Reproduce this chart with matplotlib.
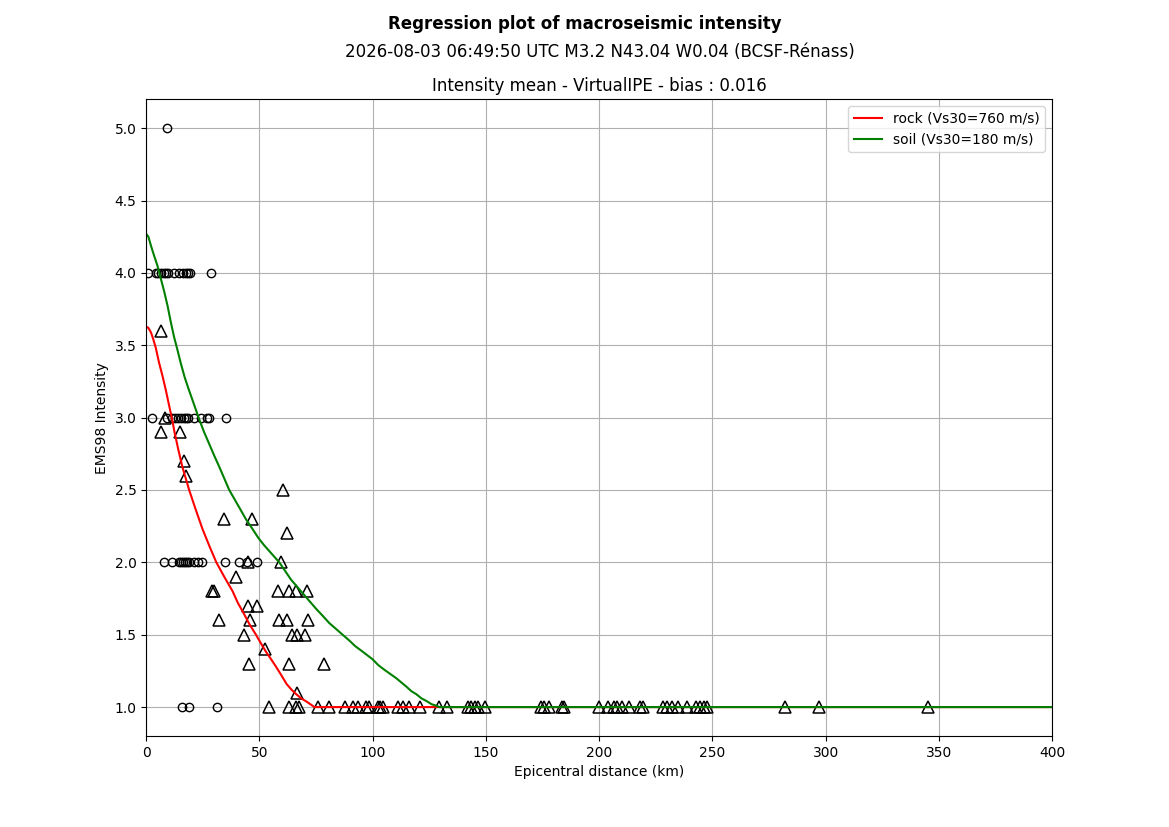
import matplotlib
matplotlib.use('Agg')
import matplotlib.pyplot as plt

# observed intensities (circles)
circ_dist = [9.3,
             0.9, 4.3, 5.3, 6.5, 7.7, 8.7, 9.7, 12.1, 14.6, 16.5, 17.5, 18.3, 19.3, 28.6,
             2.7, 9.3, 11.5, 12.8, 14.1, 15.5, 16.8, 17.7, 18.6, 21.2, 24.3, 27.0, 27.8, 35.4,
             8.0, 11.5, 14.6, 15.5, 16.4, 17.2, 18.1, 19.0, 21.2, 23.0, 24.8, 34.9, 41.1, 44.6, 49.1,
             15.8, 19.0, 31.5]
circ_int = [5.0] + [4.0] * 14 + [3.0] * 14 + [2.0] * 15 + [1.0] * 3

# intensities (triangles)
tri_dist = [6.6, 6.5, 14.9, 8.4, 16.8, 17.8, 60.6, 34.2, 46.7, 62.0, 45.1, 59.4, 39.5,
            28.9, 30.1, 58.3, 62.9, 66.2, 71.0, 44.9, 48.8, 32.3, 45.7, 58.8, 62.2, 71.5,
            43.0, 64.4, 66.6, 70.1, 52.6, 45.2, 63.3, 78.4, 66.4,
            54.1, 63.2, 66.2, 67.6, 75.7, 80.9, 87.9, 91.2, 93.4, 97.1, 98.3, 102.2, 103.3,
            104.5, 111.1, 113.3, 116.0, 120.7, 129.5, 132.9, 142.0, 143.5, 145.0, 146.5, 149.8,
            174.5, 175.5, 177.9, 183.4, 184.5, 199.8, 203.8, 206.4, 207.7, 210.0, 213.0, 217.9,
            219.2, 228.0, 229.8, 232.0, 234.7, 238.7, 242.7, 244.4, 246.2, 247.5, 282.0, 297.0,
            345.2]
tri_int = [3.6, 2.9, 2.9, 3.0, 2.7, 2.6, 2.5, 2.3, 2.3, 2.2, 2.0, 2.0, 1.9,
           1.8, 1.8, 1.8, 1.8, 1.8, 1.8, 1.7, 1.7, 1.6, 1.6, 1.6, 1.6, 1.6,
           1.5, 1.5, 1.5, 1.5, 1.4, 1.3, 1.3, 1.3, 1.1] + [1.0] * 50

# regression curves
rock_dist = [0, 1.0, 2.1, 3.2, 4.3, 5.7, 7.2, 8.7, 10.2, 11.6, 12.4, 14.2, 16.0, 17.5, 19.0,
             22.0, 24.9, 28.0, 31.0, 34.5, 38.2, 40.5, 43.0, 45.7, 48.5, 50.7, 53.0, 55.2,
             57.3, 59.7, 62.0, 64.2, 66.2, 68.5, 70.6, 72.5, 74.3, 400]
rock_int = [3.63, 3.62, 3.59, 3.54, 3.48, 3.38, 3.29, 3.19, 3.08, 2.98, 2.91, 2.78, 2.66,
            2.58, 2.50, 2.36, 2.23, 2.11, 2.00, 1.90, 1.80, 1.72, 1.65, 1.57, 1.50, 1.44,
            1.38, 1.33, 1.28, 1.22, 1.16, 1.12, 1.09, 1.06, 1.04, 1.02, 1.0, 1.0]

soil_dist = [0, 1.0, 2.1, 3.5, 5.0, 6.5, 8.0, 9.5, 10.9, 12.3, 13.8, 15.4, 17.0, 18.7, 20.5,
             23.4, 25.6, 27.8, 30.0, 32.3, 34.5, 36.7, 38.9, 41.1, 44.0, 47.0, 49.5, 52.0,
             55.4, 58.8, 61.4, 64.0, 67.3, 70.6, 72.8, 75.0, 78.0, 80.9, 85.3, 89.7, 92.4,
             95.0, 97.5, 100.0, 102.5, 105.0, 107.7, 110.4, 112.7, 115.0, 117.1, 119.2,
             121.6, 124.0, 126.0, 128.0, 129.5, 400]
soil_int = [4.27, 4.25, 4.19, 4.12, 4.05, 3.96, 3.87, 3.77, 3.66, 3.56, 3.47, 3.37, 3.28,
            3.20, 3.12, 2.99, 2.90, 2.82, 2.74, 2.66, 2.58, 2.50, 2.44, 2.38, 2.30, 2.23,
            2.17, 2.12, 2.06, 2.00, 1.94, 1.88, 1.82, 1.76, 1.72, 1.68, 1.63, 1.58, 1.52,
            1.46, 1.42, 1.39, 1.36, 1.33, 1.29, 1.26, 1.23, 1.20, 1.17, 1.14, 1.11, 1.09,
            1.06, 1.04, 1.02, 1.01, 1.0, 1.0]

fig, ax = plt.subplots(figsize=(11.69, 8.27), dpi=100)

ax.plot(circ_dist, circ_int, 'o', markerfacecolor='none', markeredgecolor='black',
        markersize=6, linestyle='none')
ax.plot(tri_dist, tri_int, '^', markerfacecolor='none', markeredgecolor='black',
        markersize=8, markeredgewidth=1.1, linestyle='none')
ax.plot(rock_dist, rock_int, color='red', label='rock (Vs30=760 m/s)')
ax.plot(soil_dist, soil_int, color='green', label='soil (Vs30=180 m/s)')

ax.set_xlim(0, 400)
ax.set_ylim(0.8, 5.2)
ax.grid(True)
ax.set_axisbelow(True)
ax.set_xlabel('Epicentral distance (km)')
ax.set_ylabel('EMS98 Intensity')
ax.set_title('Intensity mean - VirtualIPE - bias : 0.016', fontsize=12, pad=6)
ax.legend(loc='upper right')

fig.text(0.5, 0.971, 'Regression plot of macroseismic intensity', ha='center',
         va='center', fontsize=12, fontweight='bold')
fig.text(0.513, 0.937, '2026-08-03 06:49:50 UTC M3.2 N43.04 W0.04 (BCSF-Rénass)',
         ha='center', va='center', fontsize=12)

fig.savefig('out.png', dpi=100)
